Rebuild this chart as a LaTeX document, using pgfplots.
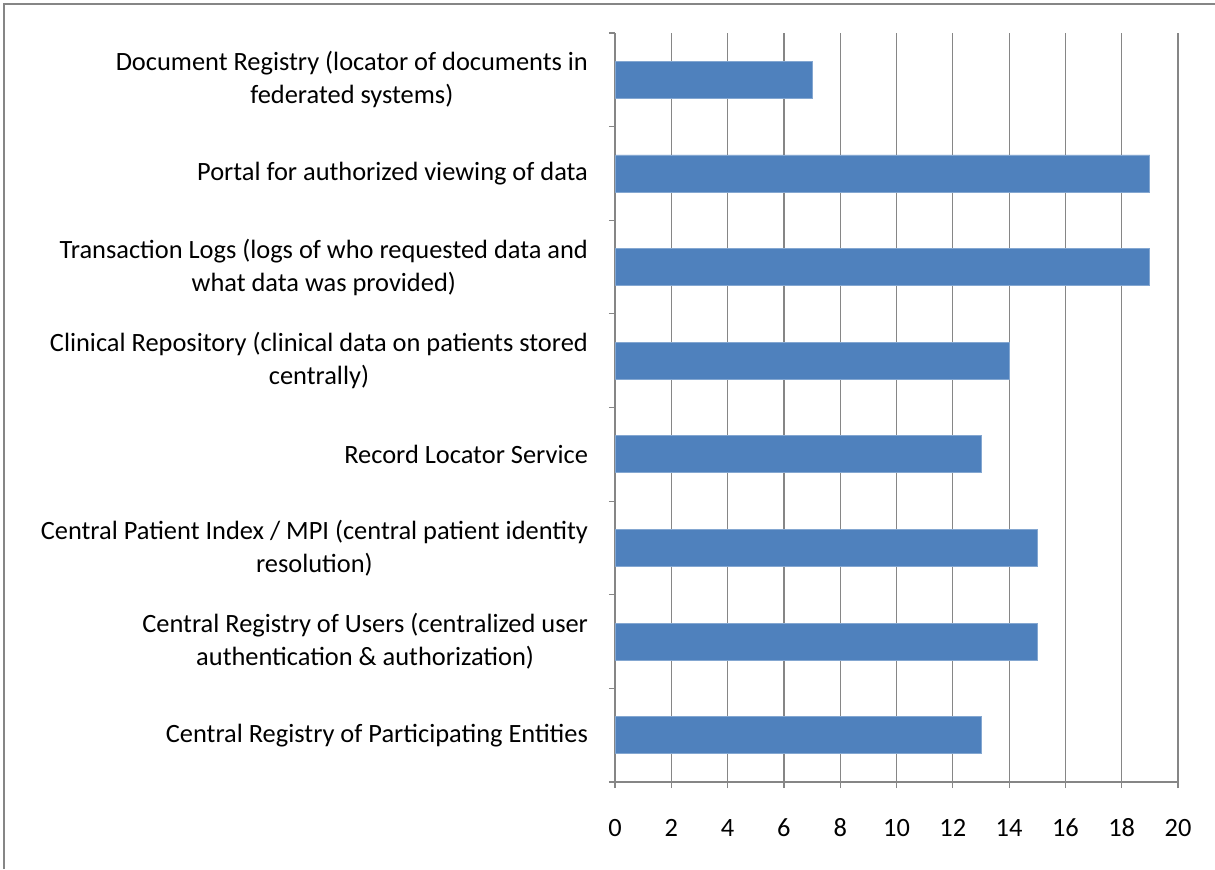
\documentclass[border=0pt]{standalone}
\usepackage{fontspec}
\setmainfont{Carlito}[Numbers=Lining]
\usepackage{pgfplots}
\pgfplotsset{compat=1.18}
\definecolor{barblue}{RGB}{79,129,189}
\definecolor{gridgray}{RGB}{134,134,134}
\begin{document}
\begin{tikzpicture}
\path[use as bounding box] (0,0) rectangle (607.5pt,434.5pt);
\draw[gridgray, line width=1pt] (2pt,0) -- (2pt,432.5pt) -- (607.5pt,432.5pt);
\begin{axis}[
  at={(307.5pt,43.5pt)}, anchor=south west,
  scale only axis, width=281.5pt, height=374.5pt,
  xbar, bar width=18.5pt,
  xmin=0, xmax=20, ymin=-0.5, ymax=7.5,
  enlargelimits=false,
  axis x line*=bottom, axis y line*=left,
  axis line style={gridgray, line width=0.6pt},
  xtick={0,2,...,20},
  xmajorgrids, grid style={gridgray, line width=0.6pt},
  tick align=outside, major tick length=3pt,
  tick style={gridgray, line width=0.6pt},
  ytick={-0.5,0.5,...,7.5}, yticklabels={},
  extra y ticks={0,1,2,3,4,5,6,7},
  extra y tick labels={
    {Central Registry of Participating Entities},
    {Central Registry of Users (centralized user\\authentication \& authorization)},
    {Central Patient Index / MPI (central patient identity\\resolution)},
    {Record Locator Service},
    {Clinical Repository (clinical data on patients stored\\centrally)},
    {Transaction Logs (logs of who requested data and\\what data was provided)},
    {Portal for authorized viewing of data},
    {Document Registry (locator of documents in\\federated systems)}},
  extra y tick style={tick style={draw=none}, grid=none},
  yticklabel style={align=center, anchor=east, font=\fontsize{13.2}{16.5}\selectfont, xshift=-7pt},
  xticklabel style={font=\fontsize{13.2}{16.5}\selectfont, text height=9.5pt, text depth=0pt, yshift=-11pt},
  /pgf/number format/assume math mode=true,
]
\addplot[fill=barblue, draw=barblue!70!white, line width=0.4pt] coordinates {
  (13,0) (15,1) (15,2) (13,3) (14,4) (19,5) (19,6) (7,7)
};
\end{axis}
\end{tikzpicture}
\end{document}
